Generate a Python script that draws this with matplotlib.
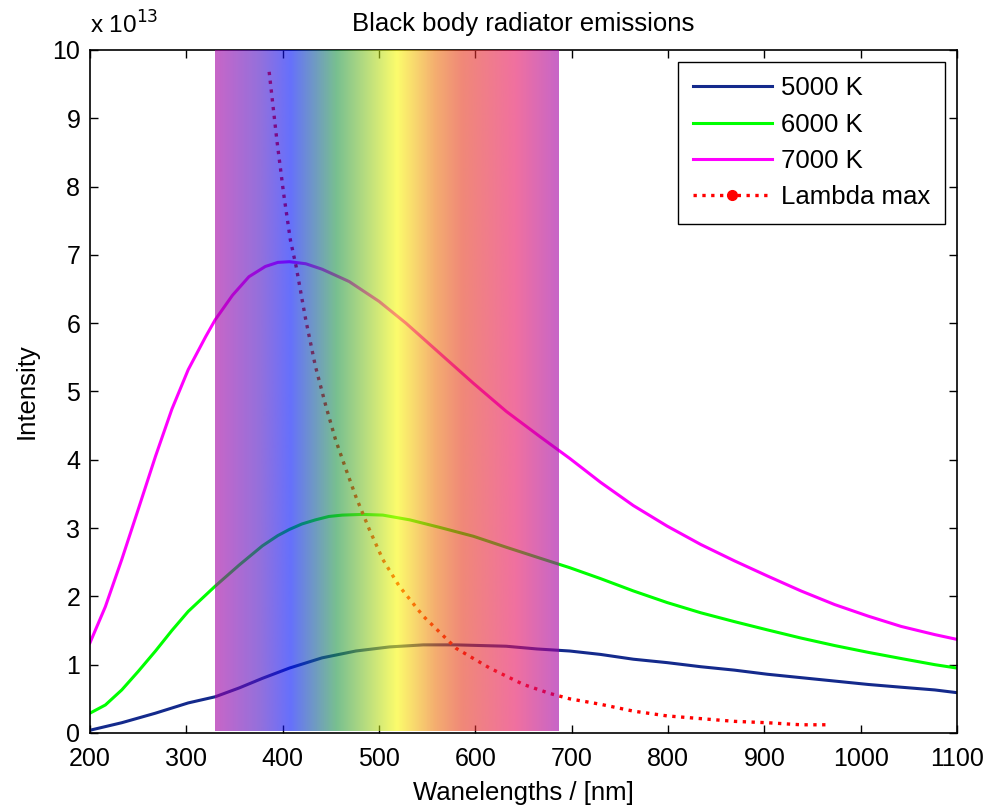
import numpy as np
import matplotlib
matplotlib.use("Agg")
import matplotlib.pyplot as plt
from matplotlib.colors import LinearSegmentedColormap
from matplotlib.lines import Line2D

plt.rcParams['font.family'] = ['Liberation Sans', 'DejaVu Sans']

# values, intensity in units of 1e13
wl_5000 = [200, 233, 268, 302, 330, 355, 379, 407, 441, 476, 511, 546, 580, 632, 664, 698,
           730, 764, 799, 834, 869, 903, 938, 973, 1008, 1042, 1077, 1100]
int_5000 = [0.04, 0.15, 0.29, 0.44, 0.53, 0.66, 0.80, 0.95, 1.10, 1.20, 1.26, 1.29, 1.29, 1.27, 1.23, 1.20,
            1.15, 1.08, 1.03, 0.97, 0.92, 0.86, 0.81, 0.76, 0.71, 0.67, 0.63, 0.59]

wl_6000 = [200, 216, 233, 250, 268, 285, 302, 330, 355, 379, 395, 407, 420, 434, 448, 462, 483, 504, 532, 563, 598, 632, 667, 698,
           730, 764, 799, 834, 869, 903, 938, 973, 1008, 1042, 1077, 1100]
int_6000 = [0.29, 0.41, 0.63, 0.90, 1.20, 1.50, 1.78, 2.15, 2.46, 2.74, 2.89, 2.98, 3.06, 3.12, 3.17, 3.19, 3.20, 3.19, 3.12, 3.01, 2.88, 2.72, 2.56, 2.42,
            2.26, 2.08, 1.91, 1.76, 1.63, 1.51, 1.39, 1.28, 1.18, 1.09, 1.00, 0.95]

wl_7000 = [200, 216, 233, 250, 268, 285, 302, 320, 330, 348, 365, 382, 395, 407, 424, 441, 469, 500, 528, 563, 598, 632, 667, 698,
           730, 764, 799, 834, 869, 903, 938, 973, 1008, 1042, 1077, 1100]
int_7000 = [1.32, 1.85, 2.54, 3.27, 4.05, 4.74, 5.32, 5.80, 6.05, 6.41, 6.68, 6.83, 6.89, 6.90, 6.87, 6.79, 6.61, 6.32, 6.00, 5.56, 5.12, 4.71, 4.34, 4.02,
            3.67, 3.33, 3.03, 2.76, 2.52, 2.30, 2.08, 1.88, 1.71, 1.56, 1.44, 1.37]

wl_max = [386, 394, 401, 408, 414, 424, 434, 445, 455, 466, 476, 490, 504, 521, 546, 580, 615, 650, 677, 698,
          730, 764, 799, 834, 869, 903, 938, 966]
int_max = [9.68, 8.68, 7.90, 7.22, 6.83, 6.05, 5.37, 4.78, 4.29, 3.85, 3.46, 2.98, 2.54, 2.15, 1.71, 1.24, 0.95, 0.71, 0.58, 0.50,
           0.42, 0.32, 0.25, 0.21, 0.17, 0.15, 0.12, 0.12]

# visible band overlay
spec_lo, spec_hi = 330, 687
spec_stops = [330, 376, 408, 456, 519, 560, 587, 643, 687]
spec_colors = ['#a300a3', '#4d11c5', '#0011fa', '#1e9646', '#fafa0a',
               '#ed7511', '#e6391e', '#e61161', '#a300a3']

fig = plt.figure(figsize=(9.92, 8.10), dpi=100)
ax = fig.add_axes([0.0907, 0.0951, 0.874, 0.8432])

ax.plot(wl_5000, int_5000, color='#142a8c', lw=2.2, label='5000 K')
ax.plot(wl_6000, int_6000, color='#00ff00', lw=2.2, label='6000 K')
ax.plot(wl_7000, int_7000, color='#ff00ff', lw=2.2, label='7000 K')
ax.plot(wl_max, int_max, color='red', ls=':', lw=2.4)

pos = [(s - spec_lo) / (spec_hi - spec_lo) for s in spec_stops]
cmap = LinearSegmentedColormap.from_list('spec', list(zip(pos, spec_colors)))
grad = np.linspace(0, 1, 512).reshape(1, -1)
ax.imshow(grad, cmap=cmap, aspect='auto', alpha=0.6,
          extent=(spec_lo, spec_hi, 0.03, 10), zorder=5, interpolation='bilinear')

ax.set_xlim(200, 1100)
ax.set_ylim(0, 10)
ax.set_xticks(range(200, 1101, 100))
ax.set_yticks(range(0, 11))
ax.tick_params(direction='in', top=True, right=True, length=6, width=1,
               labelsize=18)
ax.tick_params(axis='x', pad=10)
ax.tick_params(axis='y', pad=7)
for sp in ax.spines.values():
    sp.set_linewidth(1.2)

ax.set_title('Black body radiator emissions', fontsize=18.5, pad=14)
ax.set_xlabel('Wanelengths / [nm]', fontsize=18.5, labelpad=7)
ax.set_ylabel('Intensity', fontsize=18.5, labelpad=10)
fig.text(0.091, 0.952, r'x 10$^{13}$', fontsize=17.5, ha='left', va='bottom')

handles = ax.get_legend_handles_labels()[0]
handles.append(Line2D([], [], color='red', ls=':', lw=2.4, marker='o', ms=7))
leg = ax.legend(handles, ['5000 K', '6000 K', '7000 K', 'Lambda max'],
                loc='upper right', fontsize=18.5, handlelength=3.1, numpoints=1,
                handletextpad=0.35, fancybox=False, framealpha=1, edgecolor='black',
                borderaxespad=0.48, labelspacing=0.48, borderpad=0.55)
leg.get_frame().set_linewidth(1.0)

fig.savefig('out.png', dpi=100)
